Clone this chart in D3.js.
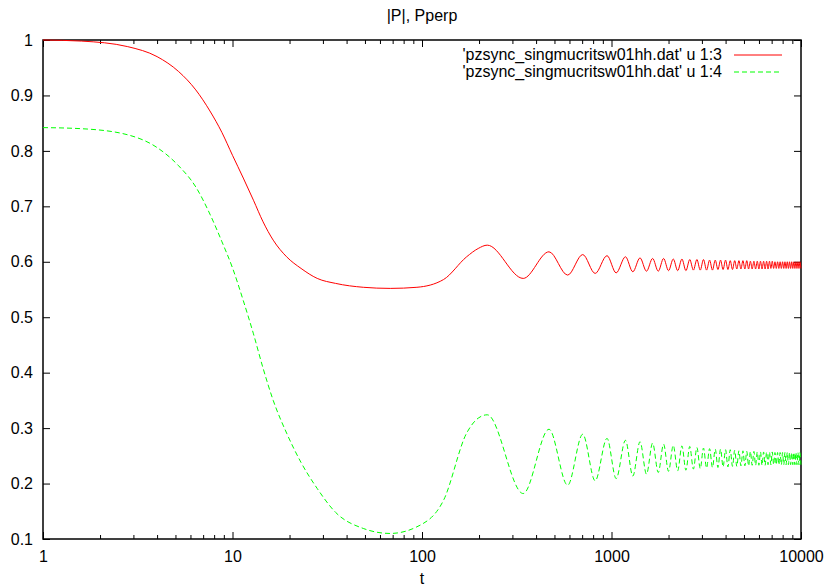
<!DOCTYPE html>
<html>
<head>
<meta charset="utf-8">
<script src="https://cdn.jsdelivr.net/npm/d3@7"></script>
<style>
  body { margin: 0; background: #fff; }
  svg { display: block; font-family: 'Liberation Sans', Arial, sans-serif; }
</style>
</head>
<body>
<svg id="chart"></svg>
<script>

const title = '|P|, Pperp'
const xLabel = 't'
const seriesNames = ["'pzsync_singmucritsw01hh.dat' u 1:3", "'pzsync_singmucritsw01hh.dat' u 1:4"]
const xTicks = [1, 10, 100, 1000, 10000]
const yTicks = [0.1, 0.2, 0.3, 0.4, 0.5, 0.6, 0.7, 0.8, 0.9, 1]

// smooth part before the oscillations start (same t for both columns)
const tHead = [1, 1.6, 2.8, 4, 5.2, 6.4, 7.6, 8.8, 10, 11.4, 12.9, 14.5, 16.4, 19.3, 23, 28, 35, 49, 68, 94, 130, 172, 198]
const pHead = [1.0, 0.998, 0.988, 0.970, 0.943, 0.910, 0.872, 0.833, 0.792, 0.751, 0.711, 0.672, 0.639, 0.609, 0.588, 0.570, 0.561, 0.554, 0.552, 0.554, 0.568, 0.609, 0.624]
const perpHead = [0.842, 0.840, 0.829, 0.806, 0.773, 0.735, 0.686, 0.636, 0.589, 0.530, 0.470, 0.408, 0.350, 0.291, 0.238, 0.191, 0.148, 0.119, 0.110, 0.122, 0.170, 0.291, 0.318]

// peaks and troughs of the oscillating tail
const tOsc = [221, 342, 468, 587, 705, 820, 947, 1058, 1185, 1296, 1414, 1530,
  1648, 1765, 1883, 2000, 2118, 2235, 2353, 2470, 2588, 2705, 2823, 2940,
  3058, 3175, 3293, 3410, 3528, 3645, 3763, 3880, 3998, 4115, 4233, 4350,
  4468, 4585, 4703, 4820, 4938, 5055, 5173, 5290, 5408, 5525, 5643, 5760,
  5878, 5995, 6113, 6230, 6348, 6465, 6583, 6700, 6818, 6935, 7053, 7170,
  7288, 7405, 7523, 7640, 7758, 7875, 7993, 8110, 8228, 8345, 8463, 8580,
  8698, 8815, 8933, 9050, 9168, 9285, 9403, 9520, 9638, 9755, 9873, 9990]
const pOsc = [0.630, 0.570, 0.618, 0.576, 0.613, 0.579, 0.611, 0.580, 0.609, 0.582, 0.607, 0.583,
  0.606, 0.583, 0.606, 0.584, 0.605, 0.584, 0.605, 0.584, 0.604, 0.585, 0.604, 0.585,
  0.604, 0.585, 0.603, 0.585, 0.603, 0.586, 0.603, 0.586, 0.603, 0.586, 0.602, 0.586,
  0.602, 0.587, 0.602, 0.587, 0.602, 0.587, 0.602, 0.587, 0.601, 0.587, 0.601, 0.587,
  0.601, 0.587, 0.601, 0.587, 0.601, 0.587, 0.601, 0.587, 0.601, 0.588, 0.601, 0.588,
  0.600, 0.588, 0.600, 0.588, 0.600, 0.588, 0.600, 0.588, 0.600, 0.588, 0.600, 0.588,
  0.600, 0.588, 0.600, 0.588, 0.600, 0.588, 0.600, 0.588, 0.600, 0.588, 0.600, 0.588]
const perpOsc = [0.324, 0.182, 0.298, 0.197, 0.289, 0.205, 0.2815, 0.209, 0.278, 0.2135, 0.2755, 0.217,
  0.273, 0.220, 0.271, 0.222, 0.269, 0.223, 0.268, 0.224, 0.267, 0.226, 0.265, 0.227,
  0.264, 0.228, 0.263, 0.229, 0.262, 0.229, 0.262, 0.230, 0.261, 0.230, 0.261, 0.231,
  0.260, 0.231, 0.259, 0.232, 0.259, 0.232, 0.258, 0.232, 0.258, 0.233, 0.258, 0.233,
  0.257, 0.233, 0.257, 0.233, 0.257, 0.233, 0.257, 0.234, 0.257, 0.234, 0.257, 0.234,
  0.256, 0.234, 0.256, 0.234, 0.256, 0.234, 0.256, 0.234, 0.256, 0.234, 0.256, 0.234,
  0.256, 0.234, 0.256, 0.234, 0.256, 0.234, 0.256, 0.234, 0.256, 0.234, 0.256, 0.234]

const colors = ['#ff0000', '#00ff00']

let width = 824, height = 588
let mLeft = 43, mRight = 801, mTop = 40, mBottom = 539

let svg = d3.select('#chart').attr('width', width).attr('height', height)

let scX = d3.scaleLog().domain([1, 10000]).range([mLeft, mRight])
let scY = d3.scaleLinear().domain([0.1, 1]).range([mBottom, mTop])

const zip = (ts, vs) => ts.map((t, i) => [t, vs[i]])
let series = [
	zip(tHead, pHead).concat(zip(tOsc, pOsc)),
	zip(tHead, perpHead).concat(zip(tOsc, perpOsc))
]

let minorX = []
for (let dec of [1, 10, 100, 1000]) for (let k = 2; k <= 9; k++) minorX.push(dec * k)

const styleAxis = g => {
	g.select('.domain').remove()
	g.selectAll('line').attr('stroke', '#000').attr('stroke-width', 1)
	g.selectAll('text').attr('fill', '#000').attr('font-size', 16)
}

// bottom + top
svg.append('g').attr('transform', `translate(0,${mBottom})`)
.call(d3.axisBottom(scX).tickValues(xTicks).tickFormat(d3.format('d')).tickSize(-7).tickPadding(11.5))
.call(styleAxis)
svg.append('g').attr('transform', `translate(0,${mBottom})`)
.call(d3.axisBottom(scX).tickValues(minorX).tickFormat('').tickSize(-4))
.call(styleAxis)
svg.append('g').attr('transform', `translate(0,${mTop})`)
.call(d3.axisTop(scX).tickValues(xTicks).tickFormat('').tickSize(-7))
.call(styleAxis)
svg.append('g').attr('transform', `translate(0,${mTop})`)
.call(d3.axisTop(scX).tickValues(minorX).tickFormat('').tickSize(-4))
.call(styleAxis)

// left + right
svg.append('g').attr('transform', `translate(${mLeft},0)`)
.call(d3.axisLeft(scY).tickValues(yTicks).tickFormat(d3.format('')).tickSize(-7).tickPadding(10))
.call(styleAxis)
svg.append('g').attr('transform', `translate(${mRight},0)`)
.call(d3.axisRight(scY).tickValues(yTicks).tickFormat('').tickSize(-7))
.call(styleAxis)

svg.append('rect')
.attr('x', mLeft).attr('y', mTop)
.attr('width', mRight - mLeft).attr('height', mBottom - mTop)
.attr('fill', 'none').attr('stroke', '#000').attr('stroke-width', 1.5)

let lineMkr = d3.line().x(d => scX(d[0])).y(d => scY(d[1])).curve(d3.curveMonotoneX)

svg.append('g').selectAll('path')
.data(series).enter().append('path')
.attr('fill', 'none')
.attr('stroke', (d, i) => colors[i])
.attr('stroke-width', 1)
.attr('stroke-dasharray', (d, i) => i == 1 ? '5,3' : null)
.attr('d', lineMkr)

// legend
let leg = svg.append('g')
seriesNames.forEach((name, i) => {
	let yy = 55 + i * 17
	leg.append('text')
	.attr('x', 722).attr('y', yy + 5)
	.attr('text-anchor', 'end').attr('font-size', 16).attr('fill', '#000')
	.text(name)
	leg.append('line')
	.attr('x1', 734).attr('x2', 782).attr('y1', yy).attr('y2', yy)
	.attr('stroke', colors[i]).attr('stroke-width', 1)
	.attr('stroke-dasharray', i == 1 ? '5,3' : null)
})

svg.append('text')
.attr('x', (mLeft + mRight) / 2).attr('y', 21)
.attr('text-anchor', 'middle').attr('font-size', 16).attr('fill', '#000')
.text(title)

svg.append('text')
.attr('x', (mLeft + mRight) / 2).attr('y', 584)
.attr('text-anchor', 'middle').attr('font-size', 16).attr('fill', '#000')
.text(xLabel)

</script>
</body>
</html>
